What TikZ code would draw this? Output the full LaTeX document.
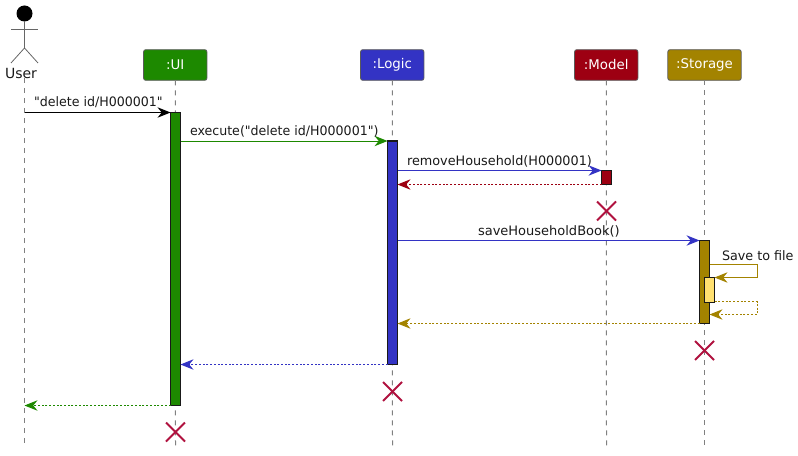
\documentclass[tikz,border=0pt]{standalone}
\usepackage{fontspec}
\setmainfont{DejaVu Sans}[Ligatures=TeXOff]
\usetikzlibrary{arrows.meta}
\definecolor{uic}{HTML}{1D8900}
\definecolor{logicc}{HTML}{3333C4}
\definecolor{modelc}{HTML}{9D0012}
\definecolor{storc}{HTML}{A38300}
\definecolor{innerc}{HTML}{FFE070}
\definecolor{crossc}{HTML}{B0123F}
\definecolor{lifec}{HTML}{808080}
\tikzset{
  x=0.75pt,y=-0.75pt,
  every node/.style={inner sep=0pt,outer sep=0pt},
  msg/.style={#1,line width=0.75pt,-{Stealth[length=9.75pt,width=7.8pt,inset=3.2pt,fill=#1]}},
  ret/.style={msg=#1,dash pattern=on 1.5pt off 1.3pt},
  partbox/.style={draw=lifec!70!black,line width=0.6pt,rounded corners=1.6pt,fill=#1,text=white,minimum height=23pt,font=\fontsize{10pt}{12pt}\selectfont},
  bar/.style={draw=black!90,line width=0.9pt,fill=#1,minimum width=7.5pt},
  lifeline/.style={lifec,line width=0.75pt,dash pattern=on 3.75pt off 3.75pt},
  lbl/.style={anchor=base west,text=black!90,font=\fontsize{9.75pt}{12pt}\selectfont},
  stick/.style={draw=black!60,line width=0.6pt},
  kill/.style={crossc,line width=1.5pt},
}
\newcommand{\killmark}[2]{%
  \draw[kill] (#1-9.5,#2-9.5) -- (#1+9.5,#2+9.5);
  \draw[kill] (#1-9.5,#2+9.5) -- (#1+9.5,#2-9.5);}
\begin{document}
\begin{tikzpicture}
\useasboundingbox (0,0) rectangle (798,456);
% lifeline ends
\coordinate (uB) at (24.5,446);
\coordinate (iB) at (175.5,446);
\coordinate (lB) at (392.5,446);
\coordinate (mB) at (606.5,446);
\coordinate (sB) at (704.5,446);
% participants
\node[font=\fontsize{10.5pt}{12pt}\selectfont,text=black!90] (user) at (21,73) {User};
\node[partbox=uic,minimum width=47.5pt] (ui) at (175.25,65) {:UI};
\node[partbox=logicc,minimum width=47.5pt] (logic) at (392.25,65) {:Logic};
\node[partbox=modelc,minimum width=47.5pt] (model) at (606.25,65) {:Model};
\node[partbox=storc,minimum width=55pt] (storage) at (704.5,65) {:Storage};
% lifelines
\draw[lifeline] (uB |- user.south) -- (uB);
\draw[lifeline] (ui.south) -- (iB);
\draw[lifeline] (logic.south) -- (lB);
\draw[lifeline] (model.south) -- (mB);
\draw[lifeline] (storage.south) -- (sB);
% actor
\fill[black] (24.5,13.5) circle (6pt);
\draw[stick] (24.5,21) -- (24.5,48);
\draw[stick] (11,29) -- (38,29);
\draw[stick] (11,63) -- (24.5,48) -- (38,63);
% activation bars
\node[bar=uic,anchor=north,minimum height=219.75pt] (uiBar) at (175.5,112.5) {};
\node[bar=logicc,anchor=north,minimum height=167.6pt] (logicBar) at (392.5,141) {};
\node[bar=modelc,anchor=north,minimum height=10.5pt] (modelBar) at (606.5,170.5) {};
\node[bar=storc,anchor=north,minimum height=62.25pt] (storBar) at (704.5,240.5) {};
\node[bar=innerc,anchor=north,minimum height=19pt] (innerBar) at (709.5,277.5) {};
% free ends
\coordinate (uA) at (24.5,112.5);
\coordinate (uC) at (24.5,405.5);
\coordinate (sf1) at (757,264.5);
\coordinate (sf2) at (757,277.5);
\coordinate (sf3) at (757,301.5);
\coordinate (sf4) at (757,314.5);
% messages
\draw[msg=black] (uA) -- (uA -| uiBar.west);
\draw[msg=uic] (uiBar.east |- 0,141) -- (logicBar.west |- 0,141);
\draw[msg=logicc] (logicBar.east |- 0,170.5) -- (modelBar.west |- 0,170.5);
\draw[ret=modelc] (modelBar.west |- 0,184.5) -- (logicBar.east |- 0,184.5);
\draw[msg=logicc] (logicBar.east |- 0,240.5) -- (storBar.west |- 0,240.5);
\draw[msg=storc] (storBar.east |- sf1) -- (sf1) -- (sf2) -- (innerBar.east |- sf2);
\draw[ret=storc] (innerBar.east |- sf3) -- (sf3) -- (sf4) -- (storBar.east |- sf4);
\draw[ret=storc] (storBar.west |- 0,323.5) -- (logicBar.east |- 0,323.5);
\draw[ret=logicc] (logicBar.west |- 0,364.5) -- (uiBar.east |- 0,364.5);
\draw[ret=uic] (uiBar.west |- uC) -- (uC);
% labels
\node[lbl] (t1) at (34,107) {\scalebox{0.97}[1]{"delete id/H000001"}};
\node[lbl] (t2) at (190,136) {\scalebox{0.97}[1]{execute("delete id/H000001")}};
\node[lbl] (t3) at (407,165) {\scalebox{0.985}[1]{removeHousehold(H000001)}};
\node[lbl] (t4) at (478,235) {saveHouseholdBook()};
\node[lbl] (t5) at (722,260) {\scalebox{0.98}[1]{Save to file}};
% destroy marks
\killmark{606.5}{211}
\killmark{704.5}{350.5}
\killmark{392.5}{391.5}
\killmark{175.5}{432}
\end{tikzpicture}
\end{document}
